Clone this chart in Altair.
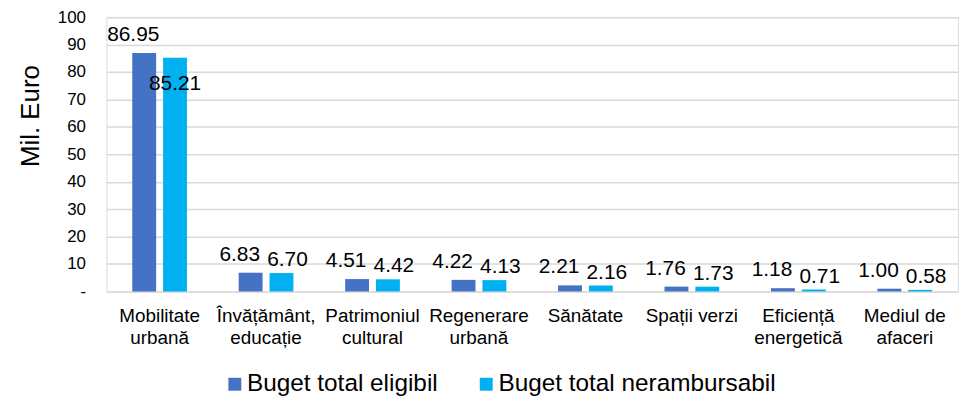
import altair as alt
import pandas as pd

categories = [
    "Mobilitate\nurbană",
    "Învățământ,\neducație",
    "Patrimoniul\ncultural",
    "Regenerare\nurbană",
    "Sănătate",
    "Spații verzi",
    "Eficiență\nenergetică",
    "Mediul de\nafaceri",
]
series = ["Buget total eligibil", "Buget total nerambursabil"]
colors = ["#4472C4", "#00B0F0"]
eligibil = [86.95, 6.83, 4.51, 4.22, 2.21, 1.76, 1.18, 1.00]
nerambursabil = [85.21, 6.70, 4.42, 4.13, 2.16, 1.73, 0.71, 0.58]
y_ticks = [0, 10, 20, 30, 40, 50, 60, 70, 80, 90, 100]

rows = []
for c, a, b in zip(categories, eligibil, nerambursabil):
    rows.append({"categorie": c, "serie": series[0], "valoare": a})
    rows.append({"categorie": c, "serie": series[1], "valoare": b})
df = pd.DataFrame(rows)

FONT = "Liberation Sans"

base = alt.Chart(df).encode(
    x=alt.X(
        "categorie:N",
        sort=categories,
        scale=alt.Scale(paddingInner=0.486, paddingOuter=0.243),
        axis=alt.Axis(
            title=None,
            labelAngle=0,
            labelFontSize=19,
            labelLineHeight=22,
            labelPadding=15,
            labelBaseline="top",
            labelExpr="split(datum.label, '\\n')",
            ticks=False,
            domain=False,
            grid=False,
            labelColor="#000000",
            labelFont=FONT,
        ),
    ),
    xOffset=alt.XOffset("serie:N", sort=series, scale=alt.Scale(paddingInner=0.226)),
    y=alt.Y(
        "valoare:Q",
        scale=alt.Scale(domain=[0, 100], nice=False),
        axis=alt.Axis(
            title="Mil. Euro",
            titleFontSize=26,
            titleFontWeight="normal",
            titleFont=FONT,
            titleColor="#000000",
            titleAngle=270,
            titleX=-76,
            titleY=99,
            titleAlign="center",
            titleBaseline="middle",
            values=y_ticks,
            labelExpr="datum.value === 0 ? '-\u00a0\u00a0' : datum.label",
            labelFontSize=17,
            labelFont=FONT,
            labelColor="#000000",
            labelPadding=21,
            ticks=False,
            tickSize=0,
            domain=False,
            grid=True,
            gridColor="#d9d9d9",
            gridWidth=1.5,
        ),
    ),
)

bars = base.mark_bar().encode(
    color=alt.Color(
        "serie:N",
        sort=series,
        scale=alt.Scale(domain=series, range=colors),
        legend=alt.Legend(
            title=None,
            orient="none",
            legendX=117,
            legendY=357,
            padding=0,
            direction="horizontal",
            symbolType="square",
            symbolSize=169,
            symbolStrokeWidth=0,
            labelFontSize=24.5,
            labelFont=FONT,
            labelColor="#000000",
            labelOffset=0,
            columnPadding=36,
            labelLimit=0,
        ),
    )
)

text_style = dict(fontSize=21, font=FONT, color="#000000", baseline="alphabetic", align="center")

lab_elig = base.transform_filter(
    alt.datum.serie == series[0]
).mark_text(dy=-12, dx=-11, **text_style).encode(text=alt.Text("valoare:Q", format=".2f"))

lab_ner_above = base.transform_filter(
    (alt.datum.serie == series[1]) & (alt.datum.valoare < 50)
).mark_text(dy=-7, dx=6, **text_style).encode(text=alt.Text("valoare:Q", format=".2f"))

lab_ner_inside = base.transform_filter(
    (alt.datum.serie == series[1]) & (alt.datum.valoare >= 50)
).mark_text(dy=32, **text_style).encode(text=alt.Text("valoare:Q", format=".2f"))

chart = (
    alt.layer(bars, lab_elig, lab_ner_above, lab_ner_inside)
    .properties(
        width=857,
        height=276,
        autosize=alt.AutoSizeParams(type="none"),
        padding={"left": 99, "top": 8, "right": 2, "bottom": 107},
    )
    .configure_view(stroke=None)
    .configure(background="#ffffff")
)

chart.save("out.html", embed_options={"renderer": "svg", "actions": False})
